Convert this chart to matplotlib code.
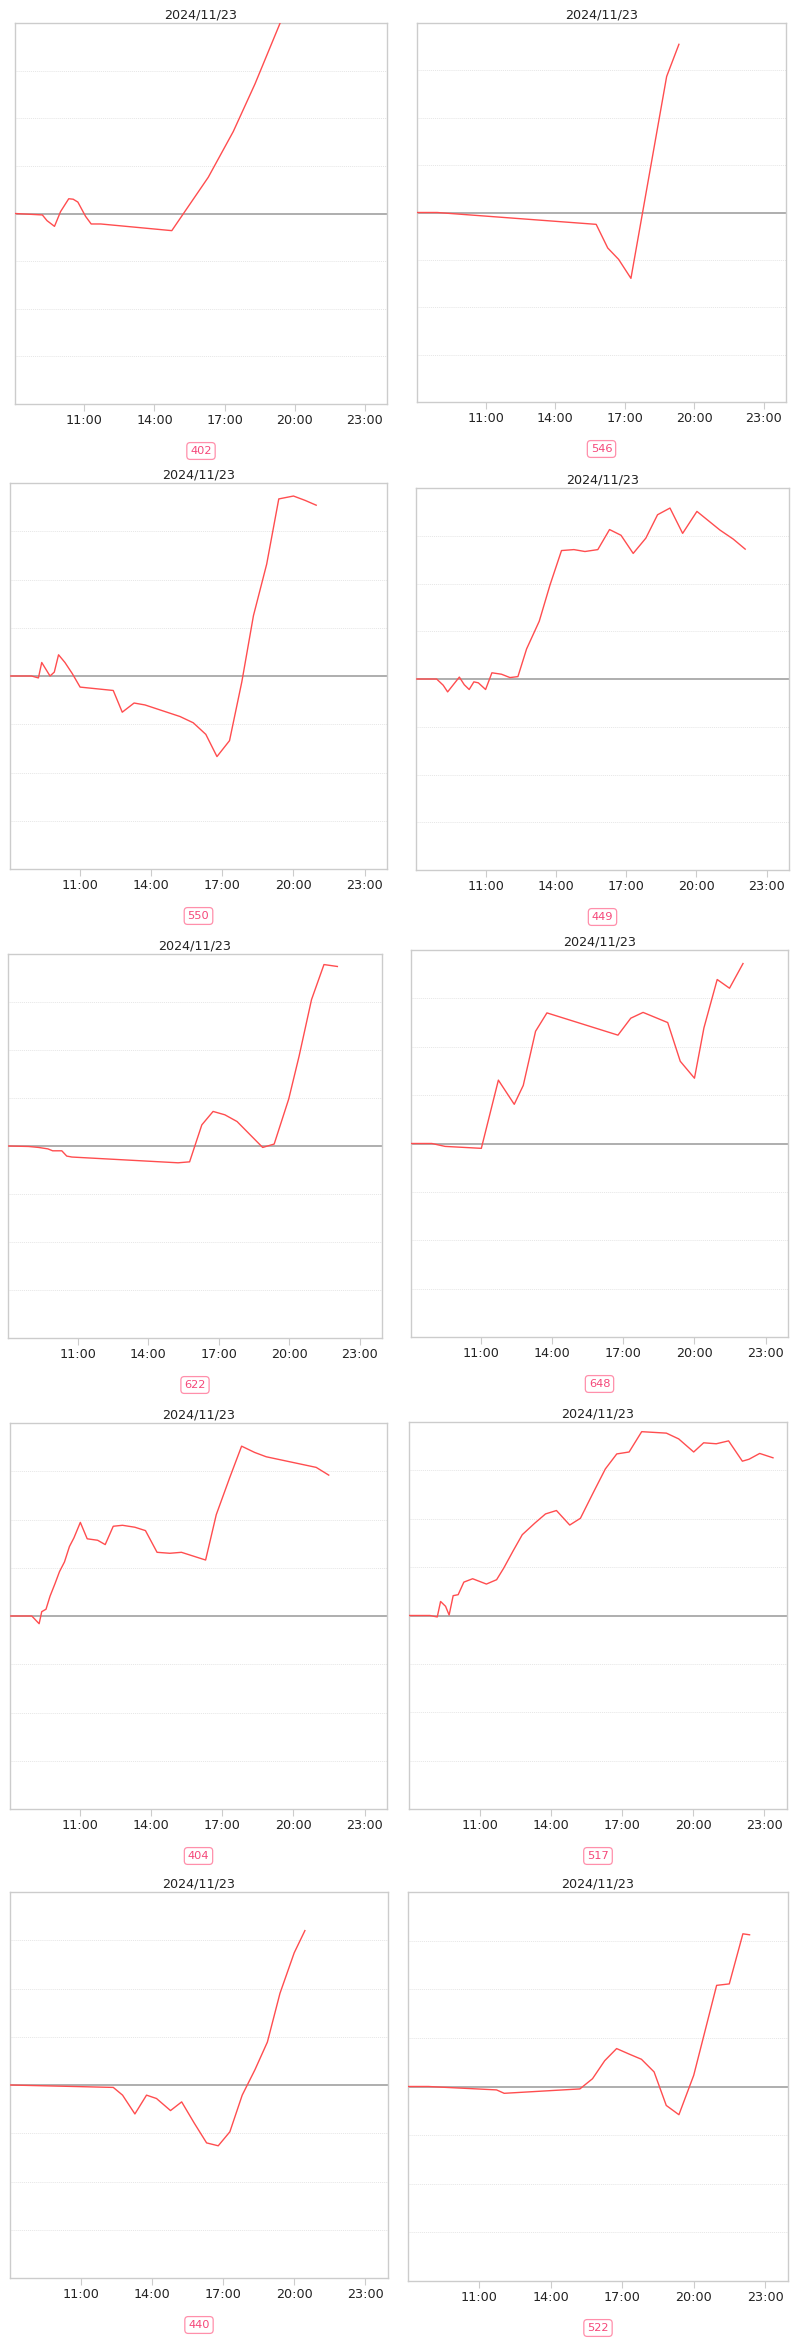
import matplotlib
matplotlib.use("Agg")
import matplotlib.pyplot as plt

W, H = 800, 2340
date_label = "2024/11/23"
codes = ["402", "546", "550", "449", "622", "648", "404", "517", "440", "522"]
hour_ticks = [11, 14, 17, 20, 23]
tick_labels = ["11:00", "14:00", "17:00", "20:00", "23:00"]
y_grid = [-3, -2, -1, 1, 2, 3]

# hours of day / value
t_402 = [8.03, 9.2, 9.4, 9.72, 9.98, 10.33, 10.52, 10.72, 11.05, 11.29, 11.7, 14.74, 16.3, 17.37, 18.3, 19.36, 19.7]
v_402 = [0, -0.03, -0.15, -0.27, 0.04, 0.31, 0.3, 0.24, -0.06, -0.22, -0.22, -0.36, 0.76, 1.72, 2.72, 3.98, 4.4]

t_546 = [8.03, 8.9, 15.76, 16.26, 16.73, 17.26, 18.8, 19.33]
v_546 = [0, 0, -0.25, -0.75, -0.99, -1.39, 2.87, 3.55]

t_550 = [8.03, 8.94, 9.23, 9.37, 9.72, 9.9, 10.08, 10.35, 10.66, 10.99, 12.39, 12.77, 13.27, 13.73,
         15.21, 15.77, 16.3, 16.77, 17.3, 17.82, 18.31, 18.87, 19.38, 20.0, 20.49, 20.96]
v_550 = [0, 0, -0.04, 0.28, 0, 0.08, 0.44, 0.28, 0.05, -0.23, -0.3, -0.75, -0.56, -0.6,
         -0.84, -0.97, -1.21, -1.67, -1.34, -0.12, 1.25, 2.32, 3.67, 3.73, 3.64, 3.54]

t_449 = [8.03, 8.91, 9.19, 9.38, 9.88, 10.09, 10.3, 10.5, 10.69, 11.0, 11.27, 11.68, 12.04, 12.38,
         12.75, 13.29, 13.75, 14.24, 14.77, 15.24, 15.79, 16.29, 16.78, 17.3, 17.84, 18.34, 18.87,
         19.41, 20.02, 21.0, 21.57, 22.08]
v_449 = [0, 0, -0.13, -0.27, 0.04, -0.12, -0.22, -0.06, -0.08, -0.22, 0.13, 0.1, 0.03, 0.05,
         0.63, 1.21, 1.97, 2.69, 2.71, 2.67, 2.71, 3.13, 3.01, 2.63, 2.95, 3.44, 3.58,
         3.05, 3.51, 3.12, 2.93, 2.72]

t_622 = [8.03, 8.91, 9.33, 9.73, 9.93, 10.32, 10.53, 10.75, 15.27, 15.76, 16.28, 16.76, 17.26,
         17.78, 18.87, 19.36, 19.98, 20.42, 20.95, 21.48, 22.05]
v_622 = [0, -0.01, -0.03, -0.06, -0.1, -0.1, -0.21, -0.23, -0.35, -0.33, 0.44, 0.72, 0.65,
         0.51, -0.03, 0.04, 0.98, 1.87, 3.05, 3.78, 3.74]

t_648 = [8.03, 8.91, 9.47, 11.0, 11.72, 12.39, 12.77, 13.29, 13.77, 16.77, 17.31, 17.83, 18.87,
         19.4, 20.0, 20.4, 20.96, 21.48, 22.05]
v_648 = [0, 0, -0.06, -0.1, 1.31, 0.81, 1.2, 2.32, 2.7, 2.24, 2.59, 2.71, 2.5,
         1.7, 1.35, 2.39, 3.39, 3.21, 3.72]

t_404 = [8.03, 8.95, 9.26, 9.37, 9.55, 9.72, 9.93, 10.12, 10.33, 10.54, 10.73, 11.0, 11.29, 11.73,
         12.05, 12.39, 12.78, 13.3, 13.75, 14.24, 14.78, 15.27, 16.29, 16.74, 17.31, 17.81, 18.36,
         18.85, 20.96, 21.49]
v_404 = [0, 0, -0.16, 0.09, 0.14, 0.41, 0.67, 0.92, 1.12, 1.44, 1.62, 1.94, 1.6, 1.57,
         1.48, 1.86, 1.88, 1.84, 1.77, 1.32, 1.3, 1.32, 1.16, 2.1, 2.87, 3.52, 3.39,
         3.3, 3.08, 2.92]

t_517 = [8.03, 8.91, 9.22, 9.36, 9.57, 9.72, 9.89, 10.1, 10.34, 10.71, 11.29, 11.72, 12.02, 12.42,
         12.8, 13.33, 13.78, 14.24, 14.8, 15.25, 15.78, 16.3, 16.78, 17.3, 17.83, 18.87, 19.39,
         20.02, 20.44, 20.97, 21.49, 22.07, 22.35, 22.8, 23.36]
v_517 = [0, 0, -0.03, 0.29, 0.19, 0.01, 0.41, 0.43, 0.69, 0.76, 0.65, 0.74, 0.98, 1.34,
         1.67, 1.91, 2.1, 2.17, 1.87, 2.01, 2.53, 3.03, 3.34, 3.38, 3.8, 3.77, 3.65,
         3.38, 3.57, 3.55, 3.61, 3.19, 3.23, 3.35, 3.26]

t_440 = [8.03, 12.38, 12.77, 13.29, 13.78, 14.2, 14.79, 15.26, 15.79, 16.31, 16.8, 17.29, 17.81,
         18.35, 18.87, 19.4, 20.0, 20.45]
v_440 = [0, -0.05, -0.21, -0.6, -0.21, -0.28, -0.53, -0.35, -0.79, -1.2, -1.26, -0.97, -0.21,
         0.32, 0.89, 1.9, 2.74, 3.2]

t_522 = [8.03, 8.88, 11.74, 12.06, 15.23, 15.76, 16.27, 16.77, 17.28, 17.81, 18.34, 18.85, 19.38,
         20.0, 20.41, 20.96, 21.49, 22.06, 22.34]
v_522 = [0, 0, -0.07, -0.14, -0.05, 0.16, 0.53, 0.78, 0.67, 0.56, 0.3, -0.39, -0.58,
         0.23, 1.02, 2.08, 2.11, 3.14, 3.12]

series = [(t_402, v_402), (t_546, v_546), (t_550, v_550), (t_449, v_449), (t_622, v_622),
          (t_648, v_648), (t_404, v_404), (t_517, v_517), (t_440, v_440), (t_522, v_522)]

# axes boxes in pixels: left, top, right, bottom
boxes = [(15, 23, 387, 404), (417, 23, 786, 402),
         (10, 483, 387, 869), (416, 488, 789, 870),
         (8, 954, 382, 1338), (411, 950, 788, 1337),
         (10, 1423, 387, 1809), (409, 1422, 787, 1809),
         (10, 1892, 388, 2278), (408, 1892, 788, 2281)]

LINE = "#ff4d4f"
BADGE = "#f5487a"

fig = plt.figure(figsize=(W / 100, H / 100), dpi=100)

for code, (t, v), (l, tp, r, b) in zip(codes, series, boxes):
    ax = fig.add_axes([l / W, 1 - b / H, (r - l) / W, (b - tp) / H])
    ax.plot(t, v, color=LINE, lw=1.0, zorder=3)
    ax.set_xlim(8.03, 23.95)
    ax.set_ylim(-4, 4)
    for g in y_grid:
        ax.axhline(g, color="#e6e6e6", lw=0.7, ls=(0, (1, 1)), zorder=1)
    ax.axhline(0, color="#999999", lw=1.1, zorder=2)
    ax.set_xticks(hour_ticks)
    ax.set_xticklabels(tick_labels)
    ax.set_yticks([])
    ax.tick_params(axis="x", length=5, width=0.8, color="#cccccc",
                   labelsize=9.2, labelcolor="#222222", pad=2.5)
    for s in ax.spines.values():
        s.set_color("#cccccc")
        s.set_linewidth(1.0)
    ax.set_title(date_label, fontsize=9.2, color="#222222", pad=3.5)
    # code badge under the chart
    cx = (l + r) / 2 / W
    cy = 1 - (b + 47) / H
    fig.text(cx, cy, code, ha="center", va="center", fontsize=8.2, color=BADGE,
             bbox=dict(boxstyle="round,pad=0.3,rounding_size=0.3",
                       fc="white", ec="#ff8fab", lw=0.9))

fig.savefig("out.png", dpi=100)
